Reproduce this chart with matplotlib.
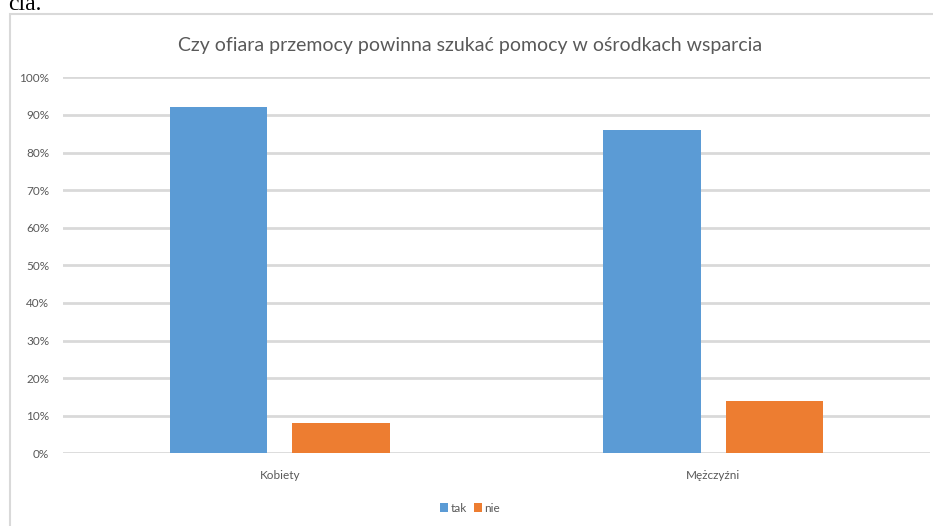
import matplotlib
matplotlib.use("Agg")
import matplotlib.pyplot as plt
import numpy as np
from matplotlib.patches import Rectangle

# values (percent)
categories = ["Kobiety", "Mężczyźni"]
series_names = ["tak", "nie"]
tak = [92, 86]
nie = [8, 14]
yticks = [0, 10, 20, 30, 40, 50, 60, 70, 80, 90, 100]
title = "Czy ofiara przemocy powinna szukać pomocy w ośrodkach wsparcia"

BLUE, ORANGE = "#5B9BD5", "#ED7D31"
GRID, TXT = "#D9D9D9", "#595959"

plt.rcParams.update({"font.family": ["Lato", "DejaVu Sans"]})

W, H = 933, 526
fig = plt.figure(figsize=(W / 100, H / 100), dpi=100)
# plot area in pixel terms: x 63..930, y 77..453
ax = fig.add_axes([63 / W, 1 - 453.3 / H, 867 / W, (453.3 - 77.3) / H])

x = np.arange(len(categories))
bw, off = 0.2245, 0.1415
ax.bar(x - off, tak, bw, color=BLUE, label=series_names[0], zorder=3)
ax.bar(x + off, nie, bw, color=ORANGE, label=series_names[1], zorder=3)

ax.set_xlim(-0.5, len(categories) - 0.5)
ax.set_ylim(0, 100)
ax.set_yticks(yticks)
ax.set_yticklabels([f"{v}%" for v in yticks])
ax.set_xticks(x)
ax.set_xticklabels(categories)
ax.tick_params(axis="both", length=0, labelsize=8.5, colors=TXT)
ax.tick_params(axis="y", pad=10)
ax.tick_params(axis="x", pad=12)
ax.yaxis.grid(True, color=GRID, lw=2.0, zorder=0)
for s in ax.spines.values():
    s.set_visible(False)

fig.text(470 / W, 1 - 45 / H, title, ha="center", va="center",
         fontsize=14, color=TXT)

leg = fig.legend(loc="center", bbox_to_anchor=(470 / W, 1 - 508 / H), ncol=2,
                 frameon=False, fontsize=8.5, handlelength=0.7, handleheight=0.7,
                 handletextpad=0.2, columnspacing=0.6)
for t in leg.get_texts():
    t.set_color(TXT)

# chart frame, running off the right and bottom of the crop
fig.patches.append(Rectangle((9.5 / W, -0.05), 1.2, 1 - 14 / H + 0.05,
                             transform=fig.transFigure, fill=False,
                             edgecolor=GRID, lw=1.5, zorder=0))
# cut-off document text above the chart
fig.text(8 / W, 1 - 10 / H, "cia.", family="Liberation Serif", fontsize=17,
         ha="left", va="baseline", color="black")

fig.savefig("out.png", dpi=100)
